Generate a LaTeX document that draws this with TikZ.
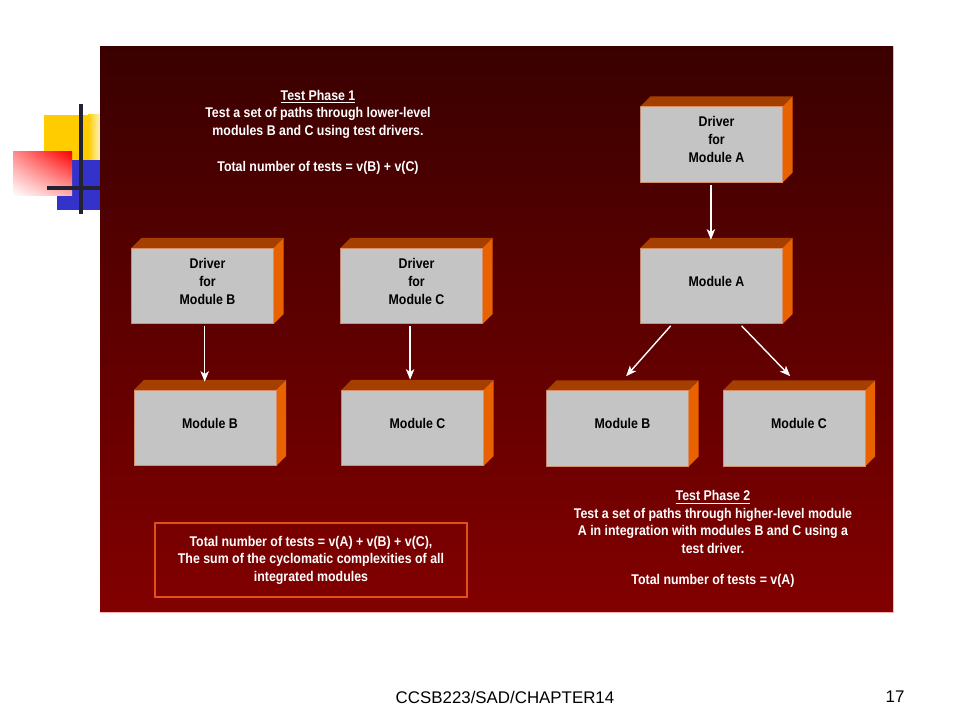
\documentclass[tikz,border=0pt]{standalone}
\usepackage{fontspec}
\setmainfont{Liberation Sans}
\newfontfamily\narrowbold[FakeStretch=0.88]{Liberation Sans Bold}
\usetikzlibrary{arrows.meta,positioning,shadings}

\definecolor{panelTop}{HTML}{3A0000}
\definecolor{panelBottom}{HTML}{820000}
\definecolor{boxFront}{HTML}{C4C4C4}
\definecolor{boxTop}{HTML}{A43F00}
\definecolor{boxSide}{HTML}{E86200}
\definecolor{boxEdge}{HTML}{D8906A}
\definecolor{summaryEdge}{HTML}{E0501A}
\definecolor{iconYellow}{HTML}{FFCC00}
\definecolor{iconBlue}{HTML}{3333CC}
\definecolor{iconLine}{HTML}{222233}

\tikzset{
  modulebox/.style={rectangle, minimum width=3.8cm, minimum height=2.15cm,
    inner sep=0pt, align=center, text=black,
    font={\narrowbold\fontsize{10}{12.8}\selectfont},
    path picture={
      \coordinate (sw) at (path picture bounding box.south west);
      \coordinate (ne) at (path picture bounding box.north east);
      \coordinate (nw) at (sw |- ne);
      \coordinate (se) at (ne |- sw);
      \fill[boxFront] (sw) rectangle ([shift={(-0.25cm,-0.25cm)}]ne);
      \fill[boxTop] ([yshift=-0.25cm]nw) -- ([xshift=0.25cm]nw) -- (ne)
        -- ([shift={(-0.25cm,-0.25cm)}]ne) -- cycle;
      \fill[boxSide] ([shift={(-0.25cm,-0.25cm)}]ne) -- (ne)
        -- ([yshift=0.25cm]se) -- ([xshift=-0.25cm]se) -- cycle;
      \draw[boxEdge, line width=0.6pt] ([shift={(0.3pt,0.3pt)}]sw)
        rectangle ([shift={(-0.25cm,-0.25cm)}]ne);
    }},
  notetext/.style={text=white, align=center,
    font={\narrowbold\fontsize{10}{12.5}\selectfont}},
  flowarrow/.style={draw=white, line width=1pt,
    -{Stealth[length=7.5pt,width=6pt,inset=2pt]}}
}

\begin{document}
\begin{tikzpicture}[x=0.025cm,y=-0.025cm]
\useasboundingbox (0,0) rectangle (960,720);
% Draw corner icon
\fill[iconYellow] (44,115) rectangle (88,160);
\shade[left color=iconYellow, right color=iconYellow!25] (88,115) rectangle (100,160);
\fill[iconBlue] (57,160) rectangle (100,210);
\shade[upper right=red, upper left=red!45, lower right=red!30, lower left=white]
  (13,152) rectangle (72,196);
\draw[iconLine, line width=2.2pt] (81,104) -- (81,214);
\draw[iconLine, line width=2.2pt] (47,188) -- (100,188);
% Draw panel
\shade[top color=panelTop, bottom color=panelBottom] (100,47) rectangle (893,612);
\draw[red!30!white, line width=0.4pt] (893,47) -- (893,612) -- (100,612);
% Phase texts
\node[notetext] (phaseone) at (318,132) {\underline{Test Phase 1}\\
  Test a set of paths through lower-level\\
  modules B and C using test drivers.\\[13pt]
  Total number of tests = v(B) + v(C)};
\node[notetext] (phasetwo) at (713,539) {\underline{Test Phase 2}\\
  Test a set of paths through higher-level module\\
  A in integration with modules B and C using a\\
  test driver.\\[9.5pt]
  Total number of tests = v(A)};
% Phase 1 boxes
\node[modulebox] (drvB) at (207.5,281) {Driver\\for\\Module B};
\node[modulebox] (drvC) at (416.5,281) {Driver\\for\\Module C};
\node[modulebox] (modBone) at (210,423) {Module B};
\node[modulebox] (modCone) at (417.5,423) {Module C};
% Phase 2 boxes
\node[modulebox] (drvA) at (716.5,139.5) {Driver\\for\\Module A};
\node[modulebox] (modA) at (716.5,281) {Module A};
\node[modulebox] (modBtwo) at (622.5,423.5) {Module B};
\node[modulebox] (modCtwo) at (799,423.5) {Module C};
% Arrows
\draw[flowarrow, shorten <=1.5pt] ([xshift=-0.07cm]drvB.south)
  -- ([xshift=-0.07cm,yshift=-0.05cm]drvB.south |- modBone.north);
\draw[flowarrow, shorten <=1.5pt] ([xshift=-0.16cm]drvC.south)
  -- ([xshift=-0.16cm]drvC.south |- modCone.north);
\draw[flowarrow, shorten <=1.5pt] ([xshift=-0.14cm]drvA.south)
  -- ([xshift=-0.14cm,yshift=-0.05cm]drvA.south |- modA.north);
\draw[flowarrow, shorten <=1.5pt] ([xshift=-1.11cm]modA.south)
  -- ([xshift=0.09cm,yshift=0.1cm]modBtwo.north);
\draw[flowarrow, shorten <=1.5pt] ([xshift=0.59cm]modA.south)
  -- ([xshift=-0.22cm,yshift=0.1cm]modCtwo.north);
% Summary box
\node[notetext, draw=summaryEdge, line width=0.8pt, minimum width=7.8cm,
  minimum height=1.85cm] (total) at (311,560)
  {Total number of tests = v(A) + v(B) + v(C),\\
   The sum of the cyclomatic complexities of all\\
   integrated modules};
% Footer
\node[font=\fontsize{12}{14}\selectfont] (footer) at (505,697) {CCSB223/SAD/CHAPTER14};
\node[font=\fontsize{12}{14}\selectfont] (pagenum) at (895,697) {17};
\end{tikzpicture}
\end{document}
